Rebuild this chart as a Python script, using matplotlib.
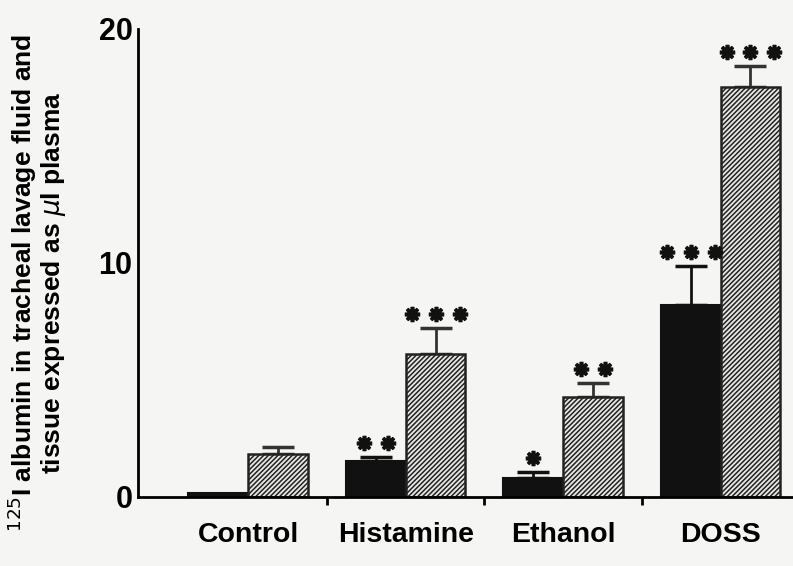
import numpy as np
import matplotlib.pyplot as plt

categories = ["Control", "Histamine", "Ethanol", "DOSS"]
lavage = [0.15, 1.55, 0.8, 8.2]
lavage_err = [0.0, 0.15, 0.27, 1.65]
tissue = [1.85, 6.1, 4.25, 17.5]
tissue_err = [0.3, 1.1, 0.6, 0.9]
lavage_stars = ["", "**", "*", "***"]
tissue_stars = ["", "***", "**", "***"]

plt.rcParams['font.family'] = ['Liberation Sans', 'DejaVu Sans']
plt.rcParams['hatch.linewidth'] = 1.1

fig = plt.figure(figsize=(7.93, 5.66), dpi=100, facecolor='#f5f5f3')
ax = fig.add_axes([0.174, 0.122, 0.826, 0.827])
ax.set_facecolor('#f5f5f3')

x = np.arange(len(categories))
w = 0.38
ax.bar(x - w / 2, lavage, w, color='#111111', edgecolor='#111111', linewidth=1.5, zorder=2)
ax.bar(x + w / 2, tissue, w, color='#e8e8e6', edgecolor='#222222', hatch='///////',
       linewidth=1.8, zorder=2)

for i in range(len(categories)):
    if lavage_err[i] > 0:
        ax.errorbar(x[i] - w / 2, lavage[i], yerr=[[0], [lavage_err[i]]], fmt='none',
                    ecolor='#111111', elinewidth=2, capsize=11.5, capthick=2.5, zorder=1)
    ax.errorbar(x[i] + w / 2, tissue[i], yerr=[[0], [tissue_err[i]]], fmt='none',
                ecolor='#333333', elinewidth=2, capsize=11.5, capthick=2.5, zorder=1)
    for xc, top, s in [(x[i] - w / 2, lavage[i] + lavage_err[i], lavage_stars[i]),
                       (x[i] + w / 2, tissue[i] + tissue_err[i], tissue_stars[i])]:
        n = len(s)
        if n == 0:
            continue
        xs = xc + (np.arange(n) - (n - 1) / 2) * 0.152
        ax.plot(xs, [top + 0.6] * n, linestyle='none', marker=(8, 2, 0), markersize=11,
                markeredgewidth=2.6, color='#111111', zorder=3, clip_on=False)

ax.set_xlim(-0.70, 3.46)
ax.set_ylim(0, 20)
ax.set_yticks([0, 10, 20])
ax.set_yticklabels(['0', '10', '20'], fontsize=22, fontweight='bold')
ax.tick_params(axis='y', length=0, pad=4)
ax.set_xticks(x)
ax.set_xticklabels(categories, fontsize=20.5, fontweight='bold')
ax.tick_params(axis='x', length=0, pad=18)
ax.set_xticks([0.5, 1.5, 2.5], minor=True)
ax.tick_params(axis='x', which='minor', length=6, width=2, direction='out')

for side in ['top', 'right']:
    ax.spines[side].set_visible(False)
ax.spines['bottom'].set_linewidth(2)
ax.spines['left'].set_linewidth(2)

fig.text(0.046, 0.5, "$^{125}$I albumin in tracheal lavage fluid and\ntissue expressed as $\\mathit{\\mu}$l plasma",
         rotation=90, ha='center', va='center', fontsize=19, fontweight='bold',
         linespacing=1.02)

fig.savefig('out.png', dpi=100, facecolor=fig.get_facecolor())
